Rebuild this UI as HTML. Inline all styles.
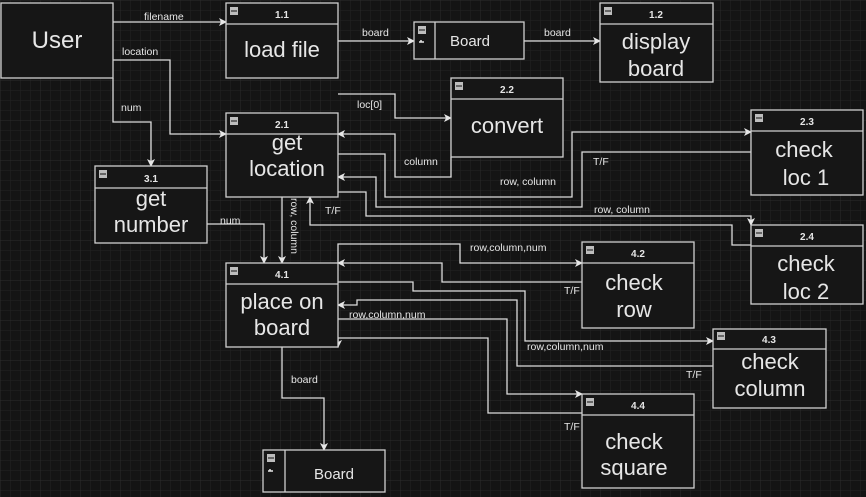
<!DOCTYPE html>
<html><head><meta charset="utf-8"><style>
html,body{margin:0;padding:0;background:#141414;}
svg{display:block;}
text{font-family:"Liberation Sans",Arial,sans-serif;fill:#e6e6e6;}
.s{font-size:10.5px;}
.b{font-size:22px;}
.h{font-size:10px;font-weight:bold;}
</style></head><body>
<svg width="866" height="497" viewBox="0 0 866 497" xmlns="http://www.w3.org/2000/svg">
<defs>
<pattern id="g" width="10" height="10" patternUnits="userSpaceOnUse"><path d="M10 0H0V10" fill="none" stroke="#232323" stroke-width="1"/></pattern>
<pattern id="G" width="40" height="40" patternUnits="userSpaceOnUse"><rect width="40" height="40" fill="url(#g)"/><path d="M40 0H0V40" fill="none" stroke="#2c2c2c" stroke-width="1"/></pattern>
<marker id="a" markerWidth="8" markerHeight="8" refX="7" refY="4" orient="auto" markerUnits="userSpaceOnUse"><path d="M0,0 L8,4 L0,8 L2,4 Z" fill="#e6e6e6"/></marker>
</defs>
<rect width="866" height="497" fill="#141414"/>
<rect width="866" height="497" fill="url(#G)"/>

<g fill="none" stroke="#dcdcdc" stroke-width="1.3">
<!-- user -->
<path d="M113 22H226" marker-end="url(#a)"/>
<path d="M113 60H170V134H226" marker-end="url(#a)"/>
<path d="M113 78V122H151V166" marker-end="url(#a)"/>
<path d="M338 41H414" marker-end="url(#a)"/>
<path d="M524 41H600" marker-end="url(#a)"/>
<!-- 2.x -->
<path d="M338 94H395V118H451" marker-end="url(#a)"/>
<path d="M451 157V177H395V134H338" marker-end="url(#a)"/>
<path d="M338 154H385V197H572V132H751" marker-end="url(#a)"/>
<path d="M751 152H582V207H376V177H338" marker-end="url(#a)"/>
<path d="M338 192H366V216H751V225" marker-end="url(#a)"/>
<path d="M751 245H732V225H310V197" marker-end="url(#a)"/>
<path d="M282 197V263" marker-end="url(#a)"/>
<path d="M207 224H264V263" marker-end="url(#a)"/>
<!-- 4.x -->
<path d="M338 263V244H460V263H582" marker-end="url(#a)"/>
<path d="M582 282H442V263H338" marker-end="url(#a)"/>
<path d="M338 282H413V291H525V341H713" marker-end="url(#a)"/>
<path d="M713 366H517V300H357V305H338" marker-end="url(#a)"/>
<path d="M338 319H507V394H582" marker-end="url(#a)"/>
<path d="M582 413H488V338H338V347" marker-end="url(#a)"/>
<path d="M282 347V398H324V450" marker-end="url(#a)"/>
</g>

<g fill="#161616" stroke="#d0d0d0" stroke-width="1.3">
<rect x="1" y="3" width="112" height="75"/>
<rect x="226" y="3" width="112" height="75"/><path d="M226 24H338"/>
<rect x="600" y="3" width="113" height="79"/><path d="M600 24H713"/>
<rect x="414" y="22" width="110" height="37"/><path d="M435 22V59"/>
<rect x="226" y="113" width="112" height="84"/><path d="M226 134H338"/>
<rect x="451" y="78" width="112" height="79"/><path d="M451 99H563"/>
<rect x="751" y="110" width="112" height="85"/><path d="M751 131H863"/>
<rect x="751" y="225" width="112" height="79"/><path d="M751 246H863"/>
<rect x="95" y="166" width="112" height="77"/><path d="M95 188H207"/>
<rect x="226" y="263" width="112" height="84"/><path d="M226 284H338"/>
<rect x="582" y="242" width="112" height="86"/><path d="M582 263H694"/>
<rect x="713" y="329" width="113" height="79"/><path d="M713 349H826"/>
<rect x="582" y="394" width="112" height="94"/><path d="M582 415H694"/>
<rect x="263" y="450" width="122" height="42"/><path d="M285 450V492"/>
</g>

<g fill="#bdbdbd">
<rect x="230" y="7" width="8" height="8"/><rect x="604" y="7" width="8" height="8"/>
<rect x="418" y="26" width="8" height="8"/><rect x="230" y="117" width="8" height="8"/>
<rect x="455" y="82" width="8" height="8"/><rect x="755" y="114" width="8" height="8"/>
<rect x="755" y="229" width="8" height="8"/><rect x="99" y="170" width="8" height="8"/>
<rect x="230" y="267" width="8" height="8"/><rect x="586" y="246" width="8" height="8"/>
<rect x="717" y="332" width="8" height="8"/><rect x="586" y="398" width="8" height="8"/>
<rect x="267" y="454" width="8" height="8"/>
</g>
<g stroke="#333" stroke-width="1.2">
<path d="M231 11h6M605 11h6M419 30h6M231 121h6M456 86h6M756 118h6M756 233h6M100 174h6M231 271h6M587 250h6M718 336h6M587 402h6M268 458h6"/>
</g>
<g stroke="#e6e6e6" stroke-width="1.5"><path d="M419 42h5M421 40v2M268 471h5M270 469v2"/></g>

<g class="h" text-anchor="middle">
<text x="282" y="18">1.1</text><text x="656" y="18">1.2</text>
<text x="282" y="128">2.1</text><text x="507" y="93">2.2</text>
<text x="807" y="125">2.3</text><text x="807" y="240">2.4</text>
<text x="151" y="182">3.1</text><text x="282" y="278">4.1</text>
<text x="638" y="257">4.2</text><text x="769" y="343">4.3</text>
<text x="638" y="409">4.4</text>
</g>
<g class="b" text-anchor="middle">
<text x="57" y="48" style="font-size:24px">User</text>
<text x="282" y="57">load file</text>
<text x="656" y="49">display</text><text x="656" y="76">board</text>
<text x="470" y="46" style="font-size:15px">Board</text>
<text x="334" y="479" style="font-size:15px">Board</text>
<text x="287" y="150">get</text><text x="287" y="176">location</text>
<text x="507" y="133">convert</text>
<text x="804" y="157">check</text><text x="806" y="185">loc 1</text>
<text x="806" y="271">check</text><text x="806" y="299">loc 2</text>
<text x="151" y="206">get</text><text x="151" y="232">number</text>
<text x="282" y="309">place on</text><text x="282" y="335">board</text>
<text x="634" y="290">check</text><text x="634" y="317">row</text>
<text x="770" y="369">check</text><text x="770" y="396">column</text>
<text x="634" y="449">check</text><text x="634" y="475">square</text>
</g>
<g class="s">
<text x="144" y="20">filename</text>
<text x="122" y="55">location</text>
<text x="121" y="111">num</text>
<text x="362" y="36">board</text>
<text x="544" y="36">board</text>
<text x="357" y="108">loc[0]</text>
<text x="404" y="165">column</text>
<text x="500" y="185">row, column</text>
<text x="593" y="165">T/F</text>
<text x="594" y="213">row, column</text>
<text x="325" y="214">T/F</text>
<text x="220" y="224">num</text>
<text transform="translate(291,198) rotate(90)">row, column</text>
<text x="470" y="251">row,column,num</text>
<text x="564" y="294">T/F</text>
<text x="349" y="318">row,column,num</text>
<text x="527" y="350">row,column,num</text>
<text x="686" y="378">T/F</text>
<text x="564" y="430">T/F</text>
<text x="291" y="383">board</text>
</g>
</svg>
</body></html>
